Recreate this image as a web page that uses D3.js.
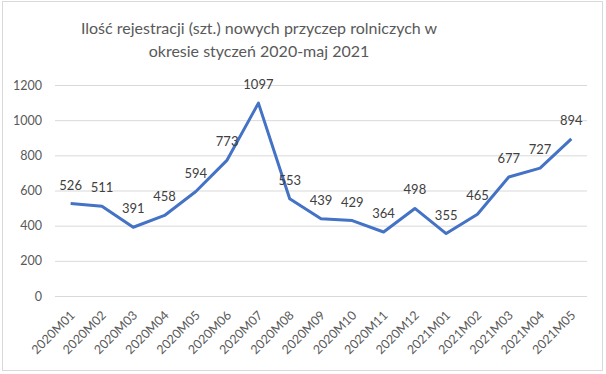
<!DOCTYPE html>
<html>
<head>
<meta charset="utf-8">
<script src="https://cdn.jsdelivr.net/npm/d3@7"></script>
<style>
  body { margin: 0; background: #fff; }
  svg { display: block; font-family: Lato, "Open Sans", sans-serif; }
</style>
</head>
<body>
<svg id="chart"></svg>
<script>
/// data ///
const months = ["2020M01","2020M02","2020M03","2020M04","2020M05","2020M06","2020M07","2020M08","2020M09",
  "2020M10","2020M11","2020M12","2021M01","2021M02","2021M03","2021M04","2021M05"];
const registrations = [526, 511, 391, 458, 594, 773, 1097, 553, 439, 429, 364, 498, 355, 465, 677, 727, 894];
const yTicks = [0, 200, 400, 600, 800, 1000, 1200];
const titleLines = ["Ilość rejestracji (szt.) nowych przyczep rolniczych w", "okresie styczeń 2020-maj 2021"];

/// constants ///
const width = 606, height = 374;
const plot = { left: 55, right: 587, top: 85, bottom: 296 };
const lineColour = "#4472C4";
const textColour = "#595959";

const svg = d3.select("#chart").attr("width", width).attr("height", height);

// outer frame
svg.append("rect")
  .attr("x", 2.5).attr("y", 1.5).attr("width", 600).attr("height", 369)
  .attr("fill", "#fff").attr("stroke", "#d9d9d9");

// title
svg.append("g").selectAll("text").data(titleLines).join("text")
  .attr("x", 259).attr("y", (d, i) => 34 + i * 23)
  .attr("text-anchor", "middle")
  .attr("fill", textColour)
  .attr("font-size", "16px")
  .text(d => d);

/// scales ///
const x = d3.scaleBand().domain(months).range([plot.left, plot.right]);
const y = d3.scaleLinear().domain([0, 1200]).range([plot.bottom, plot.top]);
const cx = d => x(d) + x.bandwidth() / 2;

// gridlines + y labels
const yAxis = d3.axisLeft(y).tickValues(yTicks).tickFormat(d3.format("d"))
  .tickSize(-(plot.right - plot.left)).tickPadding(13);
svg.append("g")
  .attr("transform", `translate(${plot.left},0)`)
  .call(yAxis)
  .call(g => g.select(".domain").remove())
  .call(g => g.selectAll(".tick line").attr("stroke", "#d9d9d9").attr("stroke-width", 1))
  .call(g => g.selectAll(".tick text").attr("fill", textColour).attr("font-size", "12.5px")
    .attr("font-family", "Lato, 'Open Sans', sans-serif"));

// x labels
const xAxis = d3.axisBottom(x).tickSize(0).tickPadding(0);
svg.append("g")
  .attr("transform", `translate(0,${plot.bottom})`)
  .call(xAxis)
  .call(g => g.select(".domain").remove())
  .call(g => g.selectAll(".tick text")
    .attr("fill", textColour).attr("font-size", "12.5px")
    .attr("font-family", "Lato, 'Open Sans', sans-serif")
    .attr("text-anchor", "end")
    .attr("dy", "0")
    .attr("transform", "translate(5,20) rotate(-45)"));

// line
const line = d3.line().x((d, i) => cx(months[i])).y(d => y(d));
svg.append("path")
  .datum(registrations)
  .attr("d", line)
  .attr("fill", "none")
  .attr("stroke", lineColour)
  .attr("stroke-width", 3)
  .attr("stroke-linejoin", "round");

// data labels
svg.append("g").selectAll("text").data(registrations).join("text")
  .attr("x", (d, i) => cx(months[i]))
  .attr("y", d => y(d) - 14)
  .attr("text-anchor", "middle")
  .attr("fill", "#404040")
  .attr("font-size", "13px")
  .text(d => d);
</script>
</body>
</html>
